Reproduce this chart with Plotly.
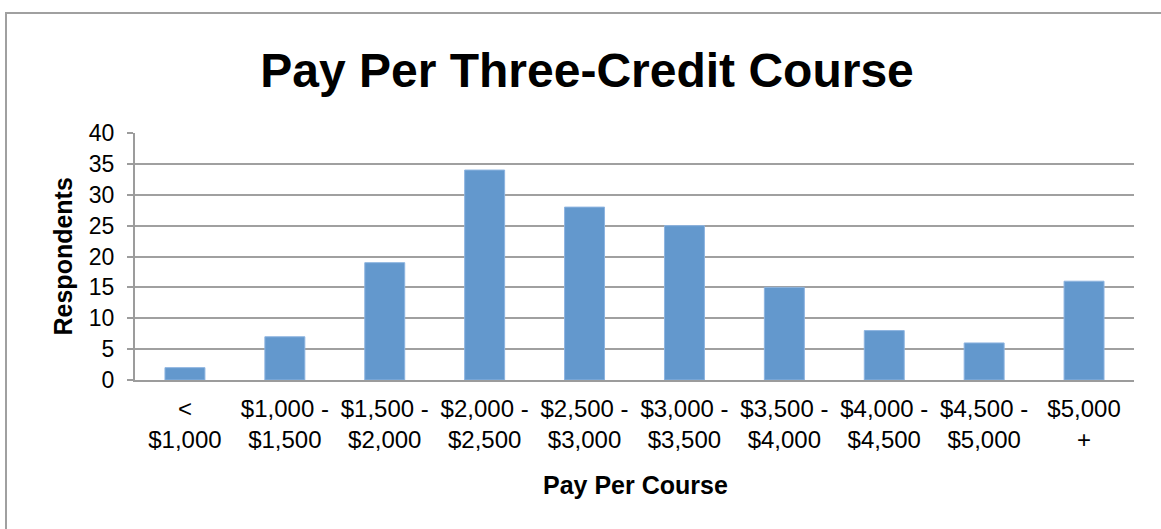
import plotly.graph_objects as go

categories = ["<<br>$1,000", "$1,000 -<br>$1,500", "$1,500 -<br>$2,000", "$2,000 -<br>$2,500",
              "$2,500 -<br>$3,000", "$3,000 -<br>$3,500", "$3,500 -<br>$4,000", "$4,000 -<br>$4,500",
              "$4,500 -<br>$5,000", "$5,000<br>+"]
respondents = [2, 7, 19, 34, 28, 25, 15, 8, 6, 16]
y_ticks = [0, 5, 10, 15, 20, 25, 30, 35, 40]

FONT = "Liberation Sans, Arial, Helvetica, sans-serif"
W, H = 1161, 529
L, R, T, B = 135, 27, 133, 149
pw, ph = W - L - R, H - T - B

fig = go.Figure(go.Bar(x=categories, y=respondents, marker=dict(color="#6398CD", line=dict(color="#8DB4E0", width=1))))

fig.update_layout(
    width=W, height=H,
    margin=dict(l=L, r=R, t=T, b=B),
    paper_bgcolor="white", plot_bgcolor="white",
    bargap=0.6,
    showlegend=False,
    font=dict(family=FONT, color="black"),
    title=dict(text="<b>Pay Per Three-Credit Course</b>", x=587 / W, xref="container", xanchor="center",
               y=1 - 70 / H, yref="container", yanchor="middle", font=dict(size=48, family=FONT, color="black")),
    xaxis=dict(showgrid=False, showline=True, linecolor="#9C9C9C", linewidth=2, ticks="",
               tickfont=dict(size=24, family=FONT, color="black"), ticklabelstandoff=6),
    yaxis=dict(range=[0, 40], tickvals=y_ticks, showgrid=True, gridcolor="#A0A0A0", gridwidth=2,
               showline=True, linecolor="#9C9C9C", linewidth=2, ticks="outside", ticklen=6, tickcolor="#9C9C9C",
               tickwidth=2, zeroline=False, tickfont=dict(size=23, family=FONT, color="black"), ticklabelstandoff=8),
    annotations=[
        dict(text="<b>Respondents</b>", textangle=-90, x=(62 - L) / pw, xref="paper", y=0.5, yref="paper",
             showarrow=False, xanchor="center", yanchor="middle", font=dict(size=25, family=FONT, color="black")),
        dict(text="<b>Pay Per Course</b>", x=(635 - L) / pw, xref="paper", y=(380 - 485) / ph, yref="paper",
             showarrow=False, xanchor="center", yanchor="middle", font=dict(size=25, family=FONT, color="black")),
    ],
    shapes=[dict(type="rect", xref="paper", yref="paper", x0=(6 - L) / pw, x1=(1200 - L) / pw,
                 y0=(380 - 560) / ph, y1=(380 - 13) / ph, line=dict(color="#A0A0A0", width=2), layer="below")],
)

fig.write_html("out.html", config={"displayModeBar": False},
               post_script="document.body.style.margin='0';")
